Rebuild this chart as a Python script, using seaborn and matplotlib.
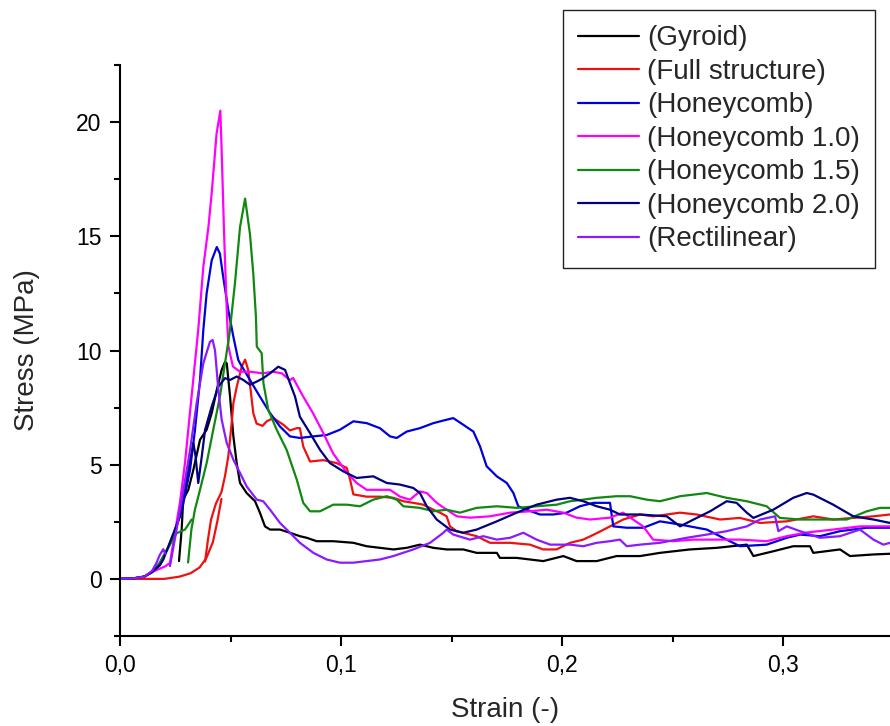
import matplotlib
matplotlib.use("Agg")
import matplotlib.pyplot as plt
import pandas as pd
import seaborn as sns
from matplotlib.ticker import FuncFormatter, MultipleLocator

specimens = [
    "(Gyroid)",
    "(Full structure)",
    "(Honeycomb)",
    "(Honeycomb 1.0)",
    "(Honeycomb 1.5)",
    "(Honeycomb 2.0)",
    "(Rectilinear)",
]
colors = ["#000000", "#ee1111", "#0000dd", "#ff00ff", "#118811", "#000080", "#8a1aff"]

# (strain, stress) pairs; "toe" = loose start segment
gyroid_toe = [(0, 0), (0.006, 0.02), (0.011, 0.1), (0.0145, 0.3), (0.018, 0.6), (0.0196, 0.9)]
gyroid = [
    (0.0267, 0.78), (0.0279, 2.16), (0.0286, 3.47), (0.0309, 3.9), (0.0332, 4.78), (0.0362, 6.09),
    (0.0392, 6.53), (0.0415, 7.26), (0.0438, 8.28), (0.046, 9.15), (0.0475, 9.5), (0.0483, 9.44),
    (0.0498, 7.98), (0.0513, 6.24), (0.0528, 5.07), (0.0543, 4.2), (0.0573, 3.76), (0.0611, 3.4),
    (0.0633, 2.9), (0.0656, 2.3), (0.0679, 2.16), (0.0724, 2.16), (0.0769, 2.02), (0.0814, 1.87),
    (0.0845, 1.8), (0.089, 1.65), (0.0965, 1.65), (0.1056, 1.58), (0.1116, 1.43), (0.1176, 1.36),
    (0.1237, 1.29), (0.1297, 1.36), (0.1357, 1.5), (0.1418, 1.36), (0.1478, 1.29), (0.1553, 1.29),
    (0.1614, 1.14), (0.1705, 1.14), (0.1719, 0.92), (0.1795, 0.92), (0.1855, 0.85), (0.1915, 0.78),
    (0.2006, 1.0), (0.2066, 0.78), (0.2157, 0.78), (0.2247, 1.0), (0.2353, 1.0), (0.2443, 1.14),
    (0.2579, 1.29), (0.27, 1.36), (0.2836, 1.5), (0.2866, 1.0), (0.2956, 1.21), (0.3046, 1.43),
    (0.3122, 1.43), (0.3137, 1.14), (0.3258, 1.29), (0.3303, 1.0), (0.3409, 1.07), (0.3484, 1.1),
]

full_toe = [(0, 0), (0.02, 0.0), (0.027, 0.1), (0.032, 0.25), (0.036, 0.5), (0.039, 0.9),
            (0.042, 1.6), (0.044, 2.5), (0.0459, 3.5)]
full = [
    (0.0385, 0.76), (0.0398, 1.72), (0.0412, 2.6), (0.0434, 3.3), (0.0459, 3.8), (0.0475, 4.5),
    (0.049, 5.36), (0.0505, 6.8), (0.0513, 7.7), (0.0528, 8.4), (0.0551, 9.3), (0.0566, 9.6),
    (0.058, 9.15), (0.0591, 8.28), (0.0603, 7.26), (0.0618, 6.8), (0.0645, 6.7), (0.0664, 6.9),
    (0.0694, 7.04), (0.0739, 6.75), (0.0769, 6.5), (0.08, 6.6), (0.0814, 6.6), (0.0829, 5.8),
    (0.086, 5.14), (0.092, 5.2), (0.098, 5.07), (0.1026, 4.86), (0.1041, 4.35), (0.1056, 3.7),
    (0.1116, 3.6), (0.1176, 3.6), (0.1237, 3.55), (0.1282, 3.4), (0.1327, 3.33), (0.1372, 3.25),
    (0.1418, 3.03), (0.1448, 2.9), (0.1478, 2.74), (0.1493, 2.3), (0.1523, 2.09), (0.1614, 1.87),
    (0.1674, 1.58), (0.1765, 1.58), (0.1855, 1.5), (0.1915, 1.29), (0.1975, 1.29), (0.2036, 1.58),
    (0.2096, 1.72), (0.2157, 2.0), (0.2217, 2.3), (0.2277, 2.6), (0.2353, 2.82), (0.2413, 2.74),
    (0.2474, 2.82), (0.2534, 2.9), (0.2609, 2.82), (0.2715, 2.6), (0.2805, 2.67), (0.2896, 2.45),
    (0.3017, 2.52), (0.3137, 2.74), (0.3227, 2.6), (0.3318, 2.67), (0.3409, 2.74), (0.3484, 2.82),
]

honeycomb = [
    (0, 0), (0.006, 0.02), (0.011, 0.1), (0.0145, 0.3), (0.018, 0.7), (0.0215, 1.3), (0.0245, 2.0),
    (0.028, 3.0), (0.0317, 4.78), (0.0339, 6.5), (0.0362, 8.7), (0.0377, 10.9), (0.0392, 12.5),
    (0.0415, 13.95), (0.0438, 14.53), (0.0452, 14.24), (0.0467, 13.22), (0.049, 11.77), (0.0513, 10.6),
    (0.0535, 9.59), (0.0543, 9.44), (0.0588, 8.71), (0.0633, 7.98), (0.0679, 7.26), (0.0724, 6.67),
    (0.0769, 6.24), (0.0814, 6.17), (0.0875, 6.24), (0.0935, 6.3), (0.0995, 6.53), (0.1056, 6.9),
    (0.1116, 6.82), (0.1176, 6.6), (0.1222, 6.24), (0.1252, 6.17), (0.1297, 6.45), (0.1357, 6.6),
    (0.1418, 6.82), (0.1478, 6.97), (0.1508, 7.04), (0.1553, 6.75), (0.1599, 6.45), (0.1629, 5.8),
    (0.1659, 4.93), (0.1705, 4.49), (0.175, 4.2), (0.178, 3.76), (0.1802, 3.18), (0.184, 3.03),
    (0.19, 2.82), (0.1961, 2.82), (0.2021, 2.9), (0.2081, 3.18), (0.2142, 3.33), (0.2217, 3.33),
    (0.2232, 2.3), (0.2293, 2.24), (0.2368, 2.24), (0.2443, 2.52), (0.2534, 2.38), (0.2655, 2.16),
    (0.2745, 1.72), (0.2805, 1.43), (0.2926, 1.5), (0.3017, 1.8), (0.3077, 1.94), (0.3167, 1.87),
    (0.3258, 2.09), (0.3379, 2.24), (0.3484, 2.24),
]

honeycomb_10 = [
    (0, 0), (0.006, 0.02), (0.011, 0.1), (0.0145, 0.3), (0.018, 0.45), (0.0205, 0.55), (0.0226, 0.7),
    (0.0241, 1.58), (0.0271, 3.33), (0.0294, 5.07), (0.0324, 8.0), (0.0354, 10.9), (0.0377, 13.66),
    (0.04, 15.4), (0.0415, 16.9), (0.0437, 19.5), (0.0454, 20.5), (0.046, 18.75), (0.0471, 15.1),
    (0.0484, 11.5), (0.049, 10.2), (0.0511, 9.3), (0.0543, 9.07), (0.0588, 9.07), (0.0647, 9.0),
    (0.0692, 9.07), (0.0732, 9.0), (0.0769, 8.7), (0.0783, 8.8), (0.0828, 8.0), (0.0873, 7.26),
    (0.0919, 6.4), (0.0964, 5.5), (0.1026, 4.65), (0.1071, 4.2), (0.1116, 3.9), (0.1176, 3.9),
    (0.1222, 3.9), (0.1267, 3.6), (0.1312, 3.47), (0.1357, 3.83), (0.1388, 3.76), (0.1433, 3.33),
    (0.1478, 3.03), (0.1524, 2.74), (0.1584, 2.68), (0.1674, 2.74), (0.1765, 2.9), (0.1855, 2.96),
    (0.1931, 3.03), (0.2006, 2.9), (0.2066, 2.68), (0.2127, 2.6), (0.2217, 2.68), (0.2276, 2.9),
    (0.2367, 2.3), (0.2412, 1.72), (0.2502, 1.65), (0.2593, 1.72), (0.27, 1.72), (0.2805, 1.72),
    (0.2926, 1.65), (0.3017, 1.87), (0.3107, 2.03), (0.3226, 2.16), (0.3348, 2.3), (0.3452, 2.3),
    (0.3484, 2.3),
]

honeycomb_15_toe = [(0, 0), (0.006, 0.02), (0.011, 0.1), (0.0145, 0.3), (0.018, 0.7), (0.0196, 1.0),
                    (0.0256, 2.0), (0.0294, 2.16), (0.0324, 2.6)]
honeycomb_15 = [
    (0.0308, 0.72), (0.0323, 2.16), (0.0339, 3.03), (0.0362, 3.9), (0.0392, 5.07), (0.0422, 6.53),
    (0.0452, 7.98), (0.0475, 9.44), (0.0495, 10.7), (0.052, 12.93), (0.0543, 15.4), (0.0566, 16.65),
    (0.0588, 15.1), (0.0603, 13.37), (0.0615, 11.48), (0.0619, 10.17), (0.0641, 9.88), (0.0649, 8.57),
    (0.0671, 7.4), (0.0709, 6.53), (0.0754, 5.65), (0.08, 4.34), (0.0829, 3.33), (0.086, 2.96),
    (0.0905, 2.96), (0.0965, 3.25), (0.1026, 3.25), (0.1086, 3.18), (0.1146, 3.47), (0.1207, 3.62),
    (0.1252, 3.47), (0.1282, 3.18), (0.1357, 3.11), (0.1418, 2.96), (0.1478, 3.03), (0.1538, 2.9),
    (0.1614, 3.11), (0.1705, 3.18), (0.1795, 3.11), (0.1885, 3.18), (0.1976, 3.25), (0.2036, 3.4),
    (0.2096, 3.47), (0.2157, 3.55), (0.2247, 3.62), (0.2308, 3.62), (0.2383, 3.47), (0.2443, 3.4),
    (0.2534, 3.62), (0.2655, 3.76), (0.2745, 3.55), (0.2836, 3.4), (0.2926, 3.18), (0.2986, 2.67),
    (0.3077, 2.6), (0.3198, 2.6), (0.3288, 2.6), (0.3379, 2.96), (0.3439, 3.11), (0.3484, 3.11),
]

honeycomb_20 = [
    (0, 0), (0.006, 0.02), (0.011, 0.1), (0.0145, 0.3), (0.018, 0.6), (0.0196, 0.85), (0.0271, 2.74),
    (0.0309, 4.78), (0.0332, 5.95), (0.0342, 5.36), (0.0354, 4.2), (0.037, 5.36), (0.0385, 6.53),
    (0.0415, 7.55), (0.0445, 8.42), (0.0475, 8.79), (0.0498, 8.71), (0.0528, 8.86), (0.0558, 8.71),
    (0.0588, 8.5), (0.0619, 8.64), (0.0648, 8.79), (0.0679, 9.0), (0.0716, 9.29), (0.0747, 9.15),
    (0.0769, 8.57), (0.0792, 7.98), (0.0814, 7.1), (0.086, 6.38), (0.0905, 5.65), (0.095, 5.07),
    (0.101, 4.71), (0.1071, 4.42), (0.1146, 4.49), (0.1207, 4.2), (0.1267, 4.13), (0.1327, 3.98),
    (0.1357, 3.76), (0.1388, 3.18), (0.1433, 2.6), (0.1493, 2.16), (0.1553, 2.02), (0.1614, 2.16),
    (0.1705, 2.52), (0.1795, 2.9), (0.1885, 3.25), (0.1976, 3.47), (0.2036, 3.55), (0.2096, 3.4),
    (0.2157, 3.18), (0.2217, 3.03), (0.2262, 2.82), (0.2353, 2.82), (0.2474, 2.74), (0.2534, 2.3),
    (0.2624, 2.74), (0.267, 2.96), (0.2745, 3.4), (0.279, 3.33), (0.2836, 2.9), (0.2866, 2.67),
    (0.2956, 3.03), (0.3046, 3.55), (0.3107, 3.76), (0.3137, 3.69), (0.3227, 3.25), (0.3318, 2.74),
    (0.3409, 2.6), (0.3484, 2.45),
]

rectilinear_toe = [(0, 0), (0.006, 0.02), (0.011, 0.1), (0.0145, 0.35), (0.0165, 0.7), (0.018, 1.05),
                   (0.0196, 1.3), (0.0205, 1.1)]
rectilinear = [
    (0.0226, 0.56), (0.0256, 2.16), (0.0287, 3.9), (0.0317, 5.65), (0.0347, 7.7), (0.0377, 9.44),
    (0.0407, 10.38), (0.0419, 10.46), (0.043, 10.0), (0.0445, 8.28), (0.046, 6.97), (0.0483, 5.95),
    (0.0513, 5.22), (0.0543, 4.64), (0.0573, 4.05), (0.0619, 3.47), (0.0648, 3.4), (0.0679, 3.03),
    (0.0724, 2.45), (0.0769, 2.02), (0.0814, 1.58), (0.0875, 1.14), (0.0935, 0.85), (0.0995, 0.71),
    (0.1056, 0.71), (0.1116, 0.78), (0.1176, 0.85), (0.1237, 1.0), (0.1327, 1.29), (0.1403, 1.58),
    (0.1463, 2.02), (0.1478, 2.16), (0.1508, 1.94), (0.1584, 1.72), (0.1644, 1.87), (0.1705, 1.72),
    (0.1765, 1.8), (0.1825, 2.02), (0.1885, 1.72), (0.1946, 1.5), (0.2036, 1.5), (0.2096, 1.43),
    (0.2157, 1.58), (0.2217, 1.65), (0.2262, 1.72), (0.2293, 1.43), (0.2353, 1.5), (0.2443, 1.58),
    (0.2564, 1.8), (0.2655, 1.94), (0.2745, 2.09), (0.2836, 2.3), (0.2896, 2.6), (0.2964, 2.74),
    (0.2979, 2.09), (0.3017, 2.3), (0.3077, 2.09), (0.3167, 1.8), (0.3258, 1.87), (0.3348, 2.16),
    (0.3409, 1.72), (0.3454, 1.5), (0.3484, 1.58),
]

segments = {
    "(Gyroid)": [gyroid_toe, gyroid],
    "(Full structure)": [full_toe, full],
    "(Honeycomb)": [honeycomb],
    "(Honeycomb 1.0)": [honeycomb_10],
    "(Honeycomb 1.5)": [honeycomb_15_toe, honeycomb_15],
    "(Honeycomb 2.0)": [honeycomb_20],
    "(Rectilinear)": [rectilinear_toe, rectilinear],
}

rows = []
for name, parts in segments.items():
    for k, part in enumerate(parts):
        for strain, stress in part:
            rows.append({"strain": strain, "stress": stress, "specimen": name, "segment": k})
df = pd.DataFrame(rows)

sns.set_style("ticks")
plt.rcParams["font.family"] = ["Liberation Sans", "DejaVu Sans"]

fig = plt.figure(figsize=(8.9, 7.26), dpi=100)
ax = fig.add_axes([120 / 890, 1 - 636 / 726, 770 / 890, 571 / 726])

sns.lineplot(
    data=df, x="strain", y="stress", hue="specimen", units="segment",
    estimator=None, sort=False, hue_order=specimens,
    palette=dict(zip(specimens, colors)), linewidth=1.6, ax=ax,
)

ax.set_xlim(0, 0.3484)
ax.set_ylim(-2.5, 22.5)
sns.despine(ax=ax)
for side in ("left", "bottom"):
    ax.spines[side].set_linewidth(1.5)
    ax.spines[side].set_color("black")

ax.xaxis.set_major_locator(MultipleLocator(0.1))
ax.xaxis.set_minor_locator(MultipleLocator(0.05))
ax.yaxis.set_major_locator(MultipleLocator(5))
ax.yaxis.set_minor_locator(MultipleLocator(2.5))
ax.xaxis.set_major_formatter(FuncFormatter(lambda v, p: f"{v:.1f}".replace(".", ",")))
ax.yaxis.set_major_formatter(FuncFormatter(lambda v, p: f"{v:.0f}"))
ax.tick_params(which="major", direction="out", length=7.2, width=1.5, labelsize=16.5,
               colors="black", pad=6)
ax.tick_params(which="minor", direction="out", length=4.3, width=1.5, colors="black")

ax.set_xlabel("Strain (-)", fontsize=20)
ax.set_ylabel("Stress (MPa)", fontsize=20)
ax.xaxis.set_label_coords(0.5, -0.106)
ax.yaxis.set_label_coords(-0.104, 0.5)

old = ax.get_legend()
handles = old.legend_handles
labels = [t.get_text() for t in old.get_texts()]
old.remove()
for h in handles:
    h.set_linewidth(1.6)
leg = ax.legend(
    handles, labels, loc="upper right", bbox_to_anchor=(0.9805, 1.0963),
    fontsize=20, frameon=True, fancybox=False, edgecolor="#222222",
    handlelength=2.2, handletextpad=0.28, labelspacing=0.27, borderpad=0.55,
    borderaxespad=0,
)
leg.get_frame().set_linewidth(1.0)
leg.get_frame().set_alpha(1)

fig.savefig("out.png", dpi=100)
